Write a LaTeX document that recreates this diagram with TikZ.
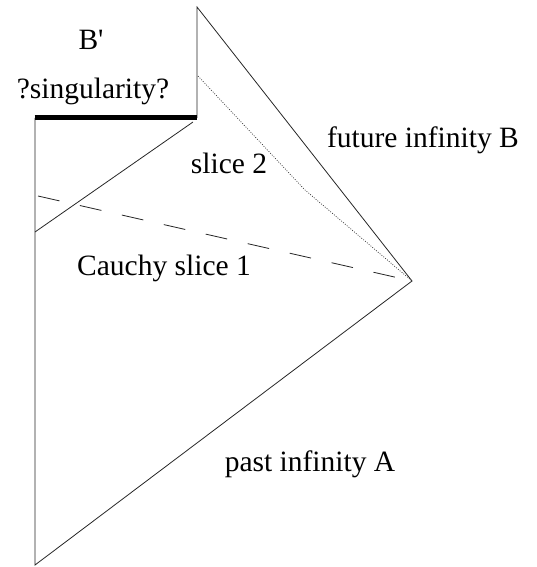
\documentclass[tikz,border=0pt]{standalone}
\usepackage{fontspec}
\setmainfont{Liberation Serif}
\begin{document}
\begin{tikzpicture}[x=1pt,y=-1pt,
  edge/.style={line width=0.8pt, draw=black!85},
  thickedge/.style={line width=5pt, draw=black},
  dashedge/.style={line width=0.8pt, draw=black!85, dash pattern=on 22pt off 21pt},
  dotedge/.style={line width=0.7pt, draw=black!80, dash pattern=on 0.9pt off 1.5pt},
  lbl/.style={inner sep=0pt, anchor=base, font=\fontsize{29.5}{35}\selectfont}]
\useasboundingbox (0,0) rectangle (536,567);
% corner points
\coordinate (TL) at (35,118);
\coordinate (TM) at (197,118);
\coordinate (TOP) at (197,7);
\coordinate (R) at (412,281);
\coordinate (BL) at (35,565);
\coordinate (S2a) at (193,122);
\coordinate (S2b) at (35,232);
\coordinate (D1) at (198,76);
\coordinate (D2) at (305,190);
\coordinate (C1) at (38,196);
% outline
\draw[edge] (TL) -- (BL) -- (R) -- (TOP) -- (TM);
\draw[thickedge] ([xshift=-0.4pt]TL) -- ([xshift=0.4pt]TM);
% slices
\draw[edge] (S2a) -- (S2b);
\draw[dotedge] (D1) -- (D2) -- (R);
\draw[dashedge] (C1) -- (R);
% labels
\node[lbl] (bp) at (91,50) {B\textquotesingle};
\node[lbl] (sing) at (93,99) {?singularity?};
\node[lbl] (s2) at (229,173) {slice 2};
\node[lbl] (fut) at (423,147) {future infinity B};
\node[lbl] (cau) at (164,275) {Cauchy slice 1};
\node[lbl] (past) at (310,471) {past infinity A};
\end{tikzpicture}
\end{document}
